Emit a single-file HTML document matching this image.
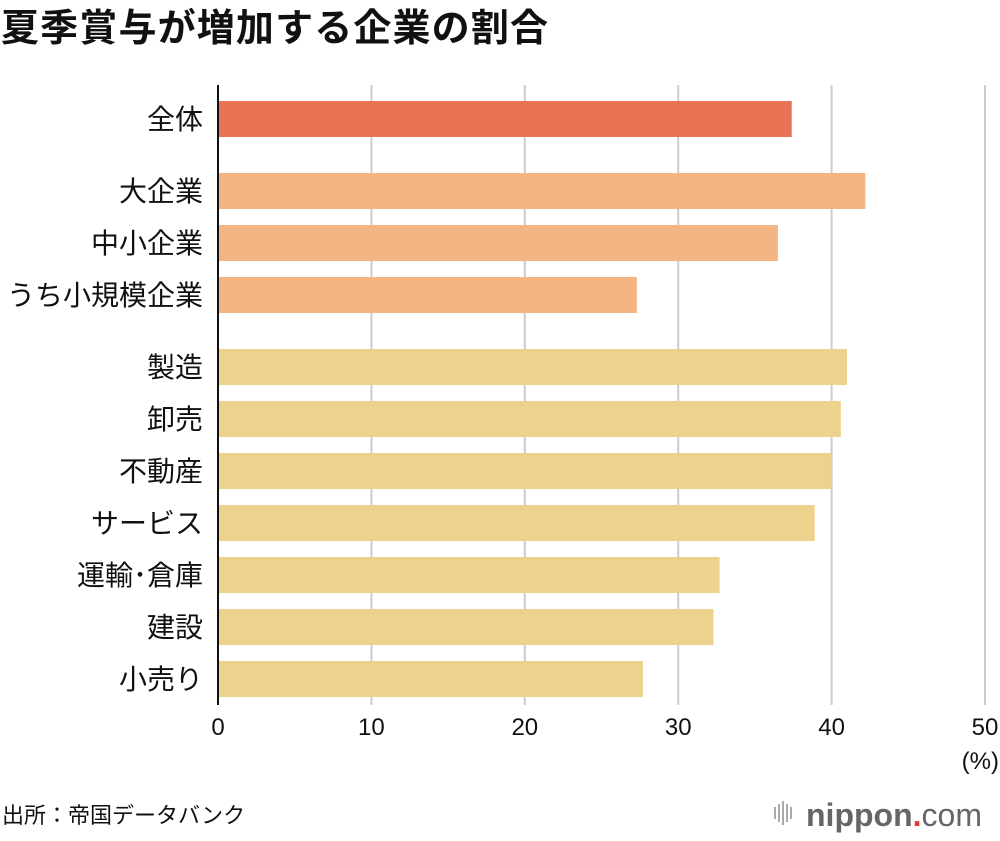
<!DOCTYPE html>
<html><head><meta charset="utf-8">
<style>
body{margin:0;background:#fff;width:1000px;height:836px;overflow:hidden;font-family:"Liberation Sans","Noto Sans CJK JP",sans-serif;}
</style></head>
<body>
<svg id="chart" width="1000" height="836" xmlns="http://www.w3.org/2000/svg" font-family="Liberation Sans, Noto Sans CJK JP, sans-serif">
<text x="1" y="41" font-size="38" font-weight="bold" fill="#111" textLength="547">夏季賞与が増加する企業の割合</text>
<g id="grid"></g>
<g id="bars"></g>
<g id="labels"></g>
<g id="ticks"></g>
<line x1="218" y1="85" x2="218" y2="705" stroke="#111" stroke-width="2"/>
<text x="999" y="769" font-size="24" text-anchor="end" fill="#111">(%)</text>
<text x="2" y="823" font-size="22" fill="#111">出所：帝国データバンク</text>
<g>
<g fill="#aaa"><rect x="774" y="807" width="2" height="12"/><rect x="778" y="804" width="2" height="18"/><rect x="782" y="801" width="2" height="24"/><rect x="786" y="804" width="2" height="18"/><rect x="790" y="807" width="2" height="12"/></g>
<text x="806" y="826" font-size="32" fill="#666" font-weight="bold">nippon<tspan fill="#e33">.</tspan><tspan font-weight="normal">com</tspan></text>
</g>
</svg>
<script>
const categories=["全体","大企業","中小企業","うち小規模企業","製造","卸売","不動産","サービス","運輸･倉庫","建設","小売り"];
const values=[37.4,42.2,36.5,27.3,41.0,40.6,40.0,38.9,32.7,32.3,27.7];
const groups=[0,1,1,1,2,2,2,2,2,2,2];
const tickValues=[0,10,20,30,40,50];
const colors=["#E87355","#F4B584","#EDD28D"];
const ns="http://www.w3.org/2000/svg";
const x=v=>218+v*15.34;
const rowY=i=>101+i*52+(groups[i]>=1?20:0)+(groups[i]>=2?20:0);
const grid=document.getElementById('grid'),bars=document.getElementById('bars'),labels=document.getElementById('labels'),ticks=document.getElementById('ticks');
tickValues.forEach(t=>{
  if(t>0){const l=document.createElementNS(ns,'line');
  
  
  l.setAttribute('x1',x(t));l.setAttribute('x2',x(t));l.setAttribute('y1',85);l.setAttribute('y2',705);
  l.setAttribute('stroke','#ccc');l.setAttribute('stroke-width','2');grid.appendChild(l);}
  const tx=document.createElementNS(ns,'text');
  
  
  tx.setAttribute('x',x(t));tx.setAttribute('y',735);tx.setAttribute('font-size','24');
  tx.setAttribute('text-anchor','middle');tx.setAttribute('fill','#111');tx.textContent=t;ticks.appendChild(tx);
});
categories.forEach((c,i)=>{
  const y=rowY(i);
  const r=document.createElementNS(ns,'rect');
  
  
  r.setAttribute('x',218);r.setAttribute('y',y);r.setAttribute('width',x(values[i])-218);r.setAttribute('height',36);
  r.setAttribute('fill',colors[groups[i]]);bars.appendChild(r);
  const t=document.createElementNS(ns,'text');
  
  
  t.setAttribute('x',203);t.setAttribute('y',y+28);t.setAttribute('font-size','28');
  t.setAttribute('text-anchor','end');t.setAttribute('fill','#111');t.textContent=c;labels.appendChild(t);
});
</script>
</body></html>
